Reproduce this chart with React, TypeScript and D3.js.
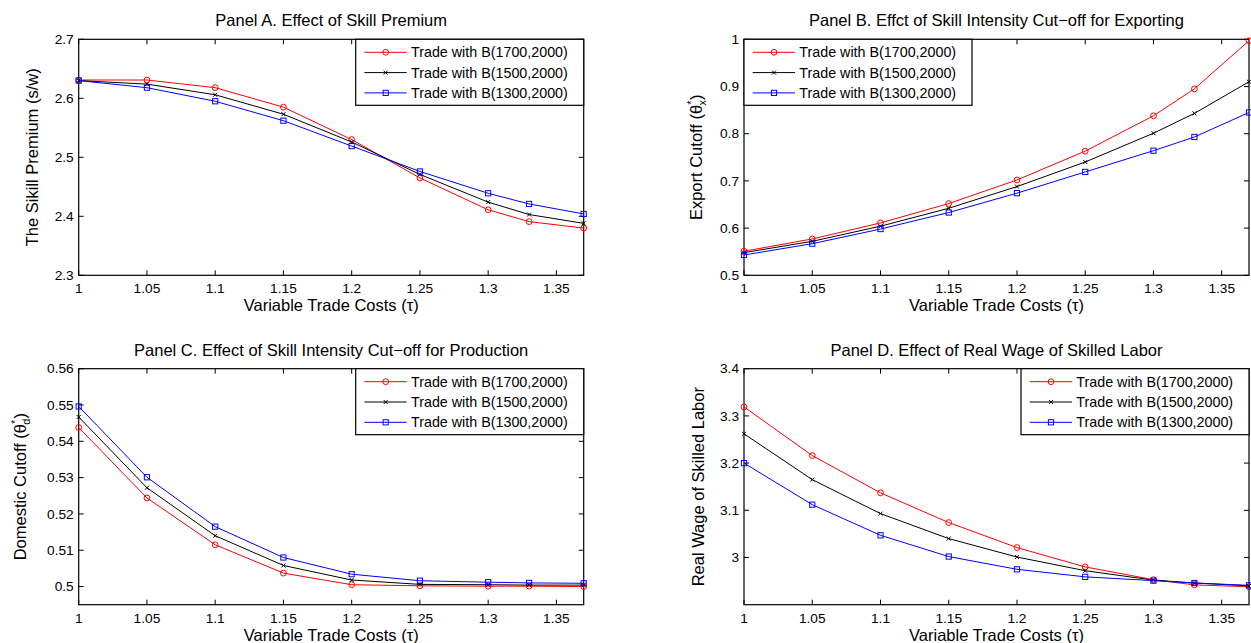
import * as d3 from 'd3'
import React, { useEffect, useRef } from 'react'

// x values (variable trade costs)
const tau = [1, 1.05, 1.1, 1.15, 1.2, 1.25, 1.3, 1.33, 1.37]
const xTicks = [1, 1.05, 1.1, 1.15, 1.2, 1.25, 1.3, 1.35]

const seriesNames = ['Trade with B(1700,2000)', 'Trade with B(1500,2000)', 'Trade with B(1300,2000)']
const seriesColors = ['#ff0000', '#000000', '#0000ff']
const seriesMarkers = ['circle', 'cross', 'square']

// Panel A - skill premium
const premium1700 = [2.631, 2.631, 2.618, 2.585, 2.530, 2.465, 2.411, 2.391, 2.380]
const premium1500 = [2.630, 2.624, 2.606, 2.573, 2.526, 2.471, 2.424, 2.403, 2.388]
const premium1300 = [2.630, 2.618, 2.595, 2.562, 2.519, 2.476, 2.439, 2.421, 2.404]
const premiumTicks = [2.3, 2.4, 2.5, 2.6, 2.7]

// Panel B - export cutoff
const export1700 = [0.551, 0.577, 0.611, 0.652, 0.702, 0.763, 0.838, 0.895, 0.997]
const export1500 = [0.548, 0.572, 0.604, 0.642, 0.688, 0.740, 0.801, 0.843, 0.910]
const export1300 = [0.543, 0.567, 0.598, 0.633, 0.674, 0.719, 0.764, 0.793, 0.845]
const exportTicks = [0.5, 0.6, 0.7, 0.8, 0.9, 1]

// Panel C - domestic cutoff
const domestic1700 = [0.5438, 0.5244, 0.5115, 0.5037, 0.5005, 0.5002, 0.5001, 0.5001, 0.5000]
const domestic1500 = [0.5467, 0.5272, 0.5140, 0.5058, 0.5018, 0.5006, 0.5005, 0.5004, 0.5004]
const domestic1300 = [0.5496, 0.5301, 0.5165, 0.5080, 0.5034, 0.5016, 0.5012, 0.5010, 0.5009]
const domesticTicks = [0.5, 0.51, 0.52, 0.53, 0.54, 0.55, 0.56]

// Panel D - real wage of skilled labor
const wage1700 = [3.319, 3.216, 3.137, 3.074, 3.021, 2.980, 2.953, 2.942, 2.938]
const wage1500 = [3.262, 3.165, 3.093, 3.040, 3.001, 2.972, 2.952, 2.946, 2.940]
const wage1300 = [3.200, 3.112, 3.047, 3.002, 2.975, 2.959, 2.951, 2.946, 2.941]
const wageTicks = [3, 3.1, 3.2, 3.3, 3.4]

const FONT = '"Liberation Sans", Arial, Helvetica, sans-serif'

const panels = [
  {
    title: 'Panel A. Effect of Skill Premium',
    yLabel: ['The Sikill Premium (s/w)'],
    series: [premium1700, premium1500, premium1300],
    domain: [2.3, 2.7], ticks: premiumTicks,
    left: 78.7, top: 39.3, legendLeft: false, labelX: 38
  },
  {
    title: 'Panel B. Effct of Skill Intensity Cut\u2212off for Exporting',
    yLabel: ['Export Cutoff (\u03b8', 'x', ')'],
    series: [export1700, export1500, export1300],
    domain: [0.5, 1], ticks: exportTicks,
    left: 744, top: 39.3, legendLeft: true, labelX: 702
  },
  {
    title: 'Panel C. Effect of Skill Intensity Cut\u2212off for Production',
    yLabel: ['Domestic Cutoff (\u03b8', 'd', ')'],
    series: [domestic1700, domestic1500, domestic1300],
    domain: [0.495, 0.56], ticks: domesticTicks,
    left: 78.7, top: 368.7, legendLeft: false, labelX: 26
  },
  {
    title: 'Panel D. Effect of Real Wage of Skilled Labor',
    yLabel: ['Real Wage of Skilled Labor'],
    series: [wage1700, wage1500, wage1300],
    domain: [2.9, 3.4], ticks: wageTicks,
    left: 744, top: 368.7, legendLeft: false, labelX: 704
  }
]

const W = 1251
const H = 643
const plotW = 505
const plotH = 236
const tickLen = 5

function drawMarker(g, type, x, y, color) {
  if (type === 'circle') {
    g.append('circle').attr('cx', x).attr('cy', y).attr('r', 2.9)
      .attr('fill', 'none').attr('stroke', color).attr('stroke-width', 1)
  } else if (type === 'square') {
    g.append('rect').attr('x', x - 2.6).attr('y', y - 2.6).attr('width', 5.2).attr('height', 5.2)
      .attr('fill', 'none').attr('stroke', color).attr('stroke-width', 1)
  } else {
    const s = 2
    g.append('path')
      .attr('d', `M${x - s},${y - s}L${x + s},${y + s}M${x - s},${y + s}L${x + s},${y - s}`)
      .attr('stroke', color).attr('stroke-width', 1)
  }
}

const App = () => {
  const ref = useRef(null)

  useEffect(() => {
    const root = ref.current
    d3.select(root).select('svg').remove()

    const svg = d3.select(root).append('svg')
      .attr('width', W).attr('height', H)
      .style('display', 'block')
      .style('font-family', FONT)

    svg.append('rect').attr('width', W).attr('height', H).attr('fill', '#fff')

    panels.forEach(p => {
      const x = d3.scaleLinear().domain([1, 1.37]).range([p.left, p.left + plotW])
      const y = d3.scaleLinear().domain(p.domain).range([p.top + plotH, p.top])
      const g = svg.append('g')
      const bottom = p.top + plotH
      const right = p.left + plotW

      // ticks (inward, all four sides)
      xTicks.forEach(t => {
        g.append('line').attr('x1', x(t)).attr('x2', x(t)).attr('y1', bottom).attr('y2', bottom - tickLen)
          .attr('stroke', '#000')
        g.append('line').attr('x1', x(t)).attr('x2', x(t)).attr('y1', p.top).attr('y2', p.top + tickLen)
          .attr('stroke', '#000')
        g.append('text').attr('x', x(t)).attr('y', bottom + 18).attr('text-anchor', 'middle')
          .style('font-size', '13.7px').text(String(t))
      })
      p.ticks.forEach(t => {
        g.append('line').attr('x1', p.left).attr('x2', p.left + tickLen).attr('y1', y(t)).attr('y2', y(t))
          .attr('stroke', '#000')
        g.append('line').attr('x1', right).attr('x2', right - tickLen).attr('y1', y(t)).attr('y2', y(t))
          .attr('stroke', '#000')
        g.append('text').attr('x', p.left - 5).attr('y', y(t)).attr('dy', '0.35em')
          .attr('text-anchor', 'end').style('font-size', '13.7px').text(String(t))
      })

      // box
      g.append('rect').attr('x', p.left).attr('y', p.top).attr('width', plotW).attr('height', plotH)
        .attr('fill', 'none').attr('stroke', '#000').attr('stroke-width', 1.2)

      // lines + markers
      const line = d3.line().x(d => x(d[0])).y(d => y(d[1]))
      p.series.forEach((vals, i) => {
        const pts = tau.map((t, k) => [t, vals[k]])
        g.append('path').attr('d', line(pts)).attr('fill', 'none')
          .attr('stroke', seriesColors[i]).attr('stroke-width', 1)
        pts.forEach(d => drawMarker(g, seriesMarkers[i], x(d[0]), y(d[1]), seriesColors[i]))
      })

      // title
      g.append('text').attr('x', (p.left + right) / 2).attr('y', p.top - 13)
        .attr('text-anchor', 'middle').style('font-size', '16.5px').text(p.title)

      // x label
      g.append('text').attr('x', (p.left + right) / 2).attr('y', bottom + 36)
        .attr('text-anchor', 'middle').style('font-size', '16.5px').text('Variable Trade Costs (\u03c4)')

      // y label
      const yl = g.append('text')
        .attr('transform', `translate(${p.labelX},${(p.top + bottom) / 2}) rotate(-90)`)
        .attr('text-anchor', 'middle').style('font-size', '16.5px')
      if (p.yLabel.length === 1) {
        yl.text(p.yLabel[0])
      } else {
        yl.append('tspan').text(p.yLabel[0])
        yl.append('tspan').attr('dy', -7).style('font-size', '11px').text('*')
        yl.append('tspan').attr('dx', -5).attr('dy', 11).style('font-size', '11px').text(p.yLabel[1])
        yl.append('tspan').attr('dy', -4).text(p.yLabel[2])
      }

      // legend
      const lw = 228
      const lh = 66
      const lx = p.legendLeft ? p.left : right - lw
      const lg = g.append('g')
      lg.append('rect').attr('x', lx).attr('y', p.top).attr('width', lw).attr('height', lh)
        .attr('fill', '#fff').attr('stroke', '#000').attr('stroke-width', 1.2)
      seriesNames.forEach((name, i) => {
        const ry = p.top + 13 + i * 20.3
        lg.append('line').attr('x1', lx + 8.7).attr('x2', lx + 51).attr('y1', ry).attr('y2', ry)
          .attr('stroke', seriesColors[i]).attr('stroke-width', 1)
        drawMarker(lg, seriesMarkers[i], lx + 30, ry, seriesColors[i])
        lg.append('text').attr('x', lx + 55.3).attr('y', ry).attr('dy', '0.35em')
          .style('font-size', '14.3px').text(name)
      })
    })
  }, [])

  return <div ref={ref} style={{ position: 'absolute', left: 0, top: 0 }} />
}

export default App
